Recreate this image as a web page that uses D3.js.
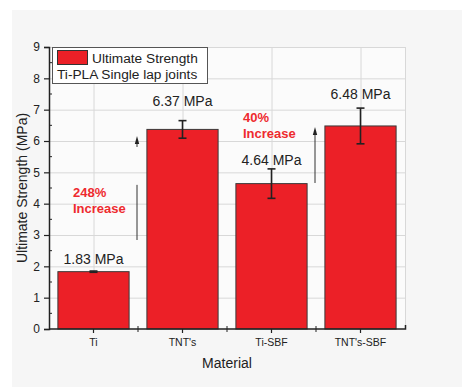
<!DOCTYPE html>
<html>
<head>
<meta charset="utf-8">
<script src="https://cdn.jsdelivr.net/npm/d3@7"></script>
<style>
  html, body { margin: 0; padding: 0; background: #fff; }
  svg { display: block; font-family: "Liberation Sans", Arial, sans-serif; }
</style>
</head>
<body>
<svg id="chart" width="462" height="387"></svg>
<script>
// Ultimate strength of Ti-PLA single lap joints by substrate treatment
const materials = ["Ti", "TNT's", "Ti-SBF", "TNT's-SBF"];
const strength = [1.83, 6.37, 4.64, 6.48];
const strengthErr = [0.02, 0.28, 0.47, 0.57];
const valueLabels = ["1.83 MPa", "6.37 MPa", "4.64 MPa", "6.48 MPa"];
const yTicks = [0, 1, 2, 3, 4, 5, 6, 7, 8, 9];

// Increase annotations: arrow spans (in MPa) drawn between two categories
const increaseText = [["248%", "Increase"], ["40%", "Increase"]];
const increasePairs = [[0, 1], [2, 3]];
const arrowFrom = [2.84, 4.66];
const arrowTo = [6.16, 6.45];
const arrowGap = [[4.6, 5.81], null];
const increaseTextAt = [4.2, 6.6];

const svg = d3.select("#chart");
const margin = { left: 49, right: 57, top: 47, bottom: 58 };
const W = 462, H = 387;
const x0 = margin.left, x1 = W - margin.right;
const y0 = H - margin.bottom, y1 = margin.top;

// page backdrop
svg.append("rect").attr("x", 12).attr("y", 10).attr("width", W - 12).attr("height", H - 10)
  .attr("fill", "#f6f6f6");

const x = d3.scaleBand().domain(materials).range([x0, x1]).paddingInner(0.2).paddingOuter(0.1);
const xc = d => x(d) + x.bandwidth() / 2;
const step = x.step();
const y = d3.scaleLinear().domain([0, 9]).range([y0, y1]);

// plot area
svg.append("rect").attr("x", x0).attr("y", y1).attr("width", x1 - x0).attr("height", y0 - y1)
  .attr("fill", "#fbfbfb");

// gridlines
const grid = svg.append("g").attr("stroke", "#d8d8d8").attr("stroke-width", 1);
grid.selectAll("line.h").data(yTicks.slice(1)).join("line")
  .attr("x1", x0).attr("x2", x1).attr("y1", d => y(d) + 0.5).attr("y2", d => y(d) + 0.5);
grid.selectAll("line.v").data(materials).join("line")
  .attr("x1", d => xc(d) + 0.5).attr("x2", d => xc(d) + 0.5).attr("y1", y1).attr("y2", y0);
grid.append("line").attr("x1", x1 + 0.5).attr("x2", x1 + 0.5).attr("y1", y1).attr("y2", y0);

// bars
svg.append("g").selectAll("rect").data(materials).join("rect")
  .attr("x", d => x(d)).attr("width", x.bandwidth())
  .attr("y", (d, i) => y(strength[i])).attr("height", (d, i) => y(0) - y(strength[i]))
  .attr("fill", "#ec2027").attr("stroke", "#3a3a3a").attr("stroke-width", 1);

// error bars
const eb = svg.append("g").attr("stroke", "#222").attr("stroke-width", 1.6);
materials.forEach((m, i) => {
  const cx = xc(m), lo = y(strength[i] - strengthErr[i]), hi = y(strength[i] + strengthErr[i]);
  eb.append("line").attr("x1", cx).attr("x2", cx).attr("y1", lo).attr("y2", hi);
  eb.append("line").attr("x1", cx - 4).attr("x2", cx + 4).attr("y1", lo).attr("y2", lo);
  eb.append("line").attr("x1", cx - 4).attr("x2", cx + 4).attr("y1", hi).attr("y2", hi);
});

// value labels, lifted above each bar top
const labelLift = [8, 23, 19, 27];
svg.append("g").selectAll("text").data(materials).join("text")
  .attr("x", d => xc(d)).attr("y", (d, i) => y(strength[i]) - labelLift[i])
  .attr("text-anchor", "middle").attr("font-size", 14).attr("fill", "#222")
  .text((d, i) => valueLabels[i]);

// axes
const yAxis = d3.axisLeft(y).tickValues(yTicks).tickSize(5).tickPadding(4).tickFormat(d3.format("d"));
const gy = svg.append("g").attr("transform", `translate(${x0},0)`).call(yAxis);
gy.select(".domain").attr("stroke", "#222").attr("stroke-width", 1.5);
gy.selectAll(".tick line").attr("stroke", "#222").attr("stroke-width", 1.2);
gy.selectAll("text").attr("font-size", 12).attr("fill", "#222").attr("font-family", "Liberation Sans, Arial, sans-serif");
// minor ticks on y
gy.selectAll("line.minor").data(d3.range(0.5, 9, 1)).join("line")
  .attr("x1", 0).attr("x2", 3).attr("y1", d => y(d)).attr("y2", d => y(d))
  .attr("stroke", "#222").attr("stroke-width", 1);

const xAxis = d3.axisBottom(x).tickSize(4).tickPadding(6);
const gx = svg.append("g").attr("transform", `translate(0,${y0})`).call(xAxis);
gx.select(".domain").attr("stroke", "#222").attr("stroke-width", 1.5).attr("d", `M${x0},0H${x1 + 0.5}V-4`);
gx.selectAll(".tick line").attr("stroke", "#222").attr("stroke-width", 1.2);
gx.selectAll("text").attr("font-size", 10.5).attr("fill", "#222").attr("font-family", "Liberation Sans, Arial, sans-serif");
// minor ticks between categories
gx.selectAll("line.minor").data(materials.slice(1)).join("line")
  .attr("x1", d => xc(d) - step / 2).attr("x2", d => xc(d) - step / 2).attr("y1", -3).attr("y2", 3)
  .attr("stroke", "#222").attr("stroke-width", 1);

// axis titles
svg.append("text").attr("transform", `translate(27,${(y0 + y1) / 2}) rotate(-90)`)
  .attr("text-anchor", "middle").attr("font-size", 14).attr("fill", "#222")
  .text("Ultimate Strength (MPa)");
svg.append("text").attr("x", (x0 + x1) / 2).attr("y", 368)
  .attr("text-anchor", "middle").attr("font-size", 14).attr("fill", "#222")
  .text("Material");

// increase arrows and labels
const textShift = [64, 72];
const ann = svg.append("g");
increaseText.forEach((lines, i) => {
  const [a, b] = increasePairs[i];
  const ax = (xc(materials[a]) + xc(materials[b])) / 2 - 1;
  const yTop = y(arrowTo[i]);
  if (arrowGap[i]) {
    ann.append("line").attr("x1", ax).attr("x2", ax).attr("y1", y(arrowFrom[i])).attr("y2", y(arrowGap[i][0]))
      .attr("stroke", "#333").attr("stroke-width", 1);
    ann.append("line").attr("x1", ax).attr("x2", ax).attr("y1", y(arrowGap[i][1])).attr("y2", yTop + 4)
      .attr("stroke", "#333").attr("stroke-width", 1);
  } else {
    ann.append("line").attr("x1", ax).attr("x2", ax).attr("y1", y(arrowFrom[i])).attr("y2", yTop + 4)
      .attr("stroke", "#333").attr("stroke-width", 1);
  }
  ann.append("path").attr("d", `M${ax - 2.2},${yTop + 8}L${ax},${yTop}L${ax + 2.2},${yTop + 8}Z`)
    .attr("fill", "#222");
  const tx = ax - textShift[i];
  const t = ann.append("text").attr("x", tx).attr("y", y(increaseTextAt[i]))
    .attr("font-size", 13).attr("font-weight", "bold").attr("fill", "#ee2a2f");
  lines.forEach((s, k) => t.append("tspan").attr("x", tx).attr("dy", k ? 16 : 0).text(s));
});

// legend
const lg = svg.append("g");
lg.append("rect").attr("x", 52.5).attr("y", 47.5).attr("width", 155).attr("height", 36)
  .attr("fill", "#fff").attr("stroke", "#555").attr("stroke-width", 1);
lg.append("rect").attr("x", 57.5).attr("y", 50.5).attr("width", 30).attr("height", 14)
  .attr("fill", "#ec2027").attr("stroke", "#333").attr("stroke-width", 1);
lg.append("text").attr("x", 92).attr("y", 63).attr("font-size", 13.7).attr("fill", "#222").text("Ultimate Strength");
lg.append("text").attr("x", 57).attr("y", 79).attr("font-size", 13.7).attr("fill", "#222").text("Ti-PLA Single lap joints");
</script>
</body>
</html>
